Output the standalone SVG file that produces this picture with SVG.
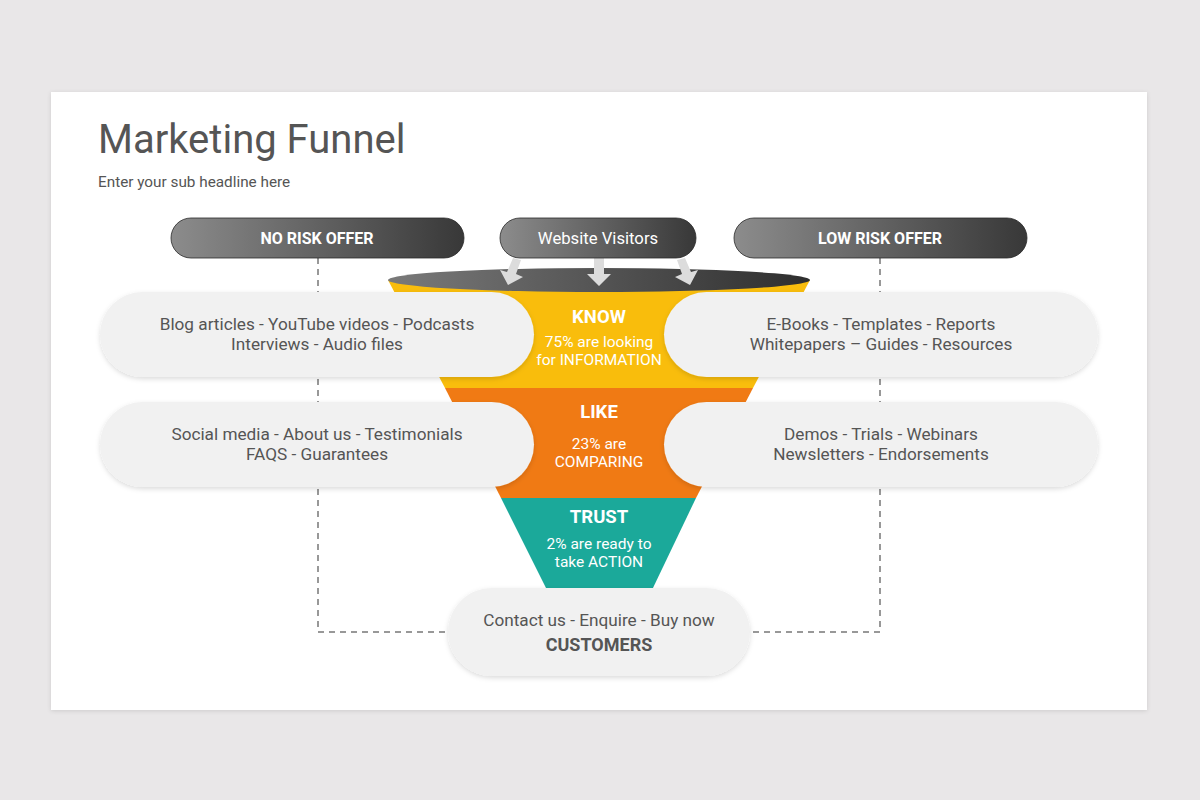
<svg xmlns="http://www.w3.org/2000/svg" width="1200" height="800" viewBox="0 0 1200 800">
<defs>
<linearGradient id="darkPill" x1="0" y1="0" x2="1" y2="0">
<stop offset="0" stop-color="#8c8c8c"/>
<stop offset="1" stop-color="#383838"/>
</linearGradient>
<linearGradient id="rim" x1="0" y1="0" x2="1" y2="0">
<stop offset="0" stop-color="#7a7a7a"/>
<stop offset="1" stop-color="#2e2e2e"/>
</linearGradient>
<filter id="sh" x="-10%" y="-20%" width="120%" height="150%">
<feDropShadow dx="0" dy="2" stdDeviation="2.5" flood-color="#000" flood-opacity="0.14"/>
</filter>
<filter id="cardsh" x="-5%" y="-5%" width="110%" height="110%">
<feDropShadow dx="0" dy="1" stdDeviation="2" flood-color="#000" flood-opacity="0.12"/>
</filter>
<style>
text{font-family:Roboto,"Liberation Sans",sans-serif}
.pill{fill:#f1f1f1;filter:url(#sh)}
.dpill{fill:url(#darkPill);stroke:#2a2a2a;stroke-width:0.8}
.pt{font-size:17.2px;fill:#555;text-anchor:middle}
.ht{font-size:16px;fill:#fff;font-weight:bold;text-anchor:middle}
.ft{font-size:18.5px;fill:#fff;font-weight:bold;text-anchor:middle}
.fs{font-size:15.5px;fill:#fff;text-anchor:middle}
.dash{fill:none;stroke:#777;stroke-width:1.5;stroke-dasharray:6 5}
.arr{fill:#dcdcdc}
</style>
</defs>
<rect width="1200" height="800" fill="#e9e7e8"/>
<rect x="51" y="92" width="1096" height="618" fill="#fff" filter="url(#cardsh)"/>
<text x="98" y="153" font-size="40" fill="#555">Marketing Funnel</text>
<text x="98" y="187" font-size="15.3" fill="#555">Enter your sub headline here</text>

<g id="connectors">
<path class="dash" d="M318,258 V632 H460"/>
<path class="dash" d="M880,258 V632 H740"/>
</g>

<g id="funnel">
<polygon points="388,280 810,280 753,388 445,388" fill="#f9bd0c"/>
<polygon points="445,388 753,388 696,498 501,498" fill="#f07a14"/>
<polygon points="501,498 696,498 652,590 547,590" fill="#1ba99a"/>
<ellipse cx="599" cy="280" rx="211" ry="12" fill="url(#rim)"/>
</g>

<g id="arrows">
<polygon class="arr" points="513,258 521,260 516,274 523,277 508,285 500,270 507,272"/>
<polygon class="arr" points="594,258 604,258 604,274 611,274 599,286 587,274 594,274"/>
<polygon class="arr" points="685,258 677,260 682,274 675,277 690,285 698,270 691,272"/>
</g>

<g id="no-risk-offer">
<rect class="dpill" x="171" y="218" width="293" height="40" rx="20"/>
<text class="ht" x="317" y="244">NO RISK OFFER</text>
</g>
<g id="website-visitors">
<rect class="dpill" x="500" y="218" width="196" height="40" rx="20"/>
<text x="598" y="244" font-size="16.7" fill="#fff" text-anchor="middle">Website Visitors</text>
</g>
<g id="low-risk-offer">
<rect class="dpill" x="734" y="218" width="293" height="40" rx="20"/>
<text class="ht" x="880" y="244">LOW RISK OFFER</text>
</g>

<g id="know">
<text class="ft" x="599" y="323">KNOW</text>
<text class="fs" x="599" y="347">75% are looking</text>
<text class="fs" x="599" y="365">for INFORMATION</text>
</g>
<g id="like">
<text class="ft" x="599" y="418">LIKE</text>
<text class="fs" x="599" y="449">23% are</text>
<text class="fs" x="599" y="467">COMPARING</text>
</g>
<g id="trust">
<text class="ft" x="599" y="523">TRUST</text>
<text class="fs" x="599" y="549">2% are ready to</text>
<text class="fs" x="599" y="567">take ACTION</text>
</g>

<g id="left-know">
<rect class="pill" x="100" y="292" width="434" height="85" rx="42.5"/>
<text class="pt" x="317" y="330">Blog articles - YouTube videos - Podcasts</text>
<text class="pt" x="317" y="350">Interviews - Audio files</text>
</g>
<g id="left-like">
<rect class="pill" x="100" y="402" width="434" height="85" rx="42.5"/>
<text class="pt" x="317" y="440">Social media - About us - Testimonials</text>
<text class="pt" x="317" y="460">FAQS - Guarantees</text>
</g>
<g id="right-know">
<rect class="pill" x="664" y="292" width="434" height="85" rx="42.5"/>
<text class="pt" x="881" y="330">E-Books - Templates - Reports</text>
<text class="pt" x="881" y="350">Whitepapers  – Guides - Resources</text>
</g>
<g id="right-like">
<rect class="pill" x="664" y="402" width="434" height="85" rx="42.5"/>
<text class="pt" x="881" y="440">Demos - Trials - Webinars</text>
<text class="pt" x="881" y="460">Newsletters - Endorsements</text>
</g>
<g id="customers">
<rect class="pill" x="448" y="588" width="302" height="88" rx="44"/>
<text class="pt" x="599" y="626">Contact us - Enquire - Buy now</text>
<text x="599" y="651" font-size="18" font-weight="bold" fill="#555" text-anchor="middle">CUSTOMERS</text>
</g>
</svg>
